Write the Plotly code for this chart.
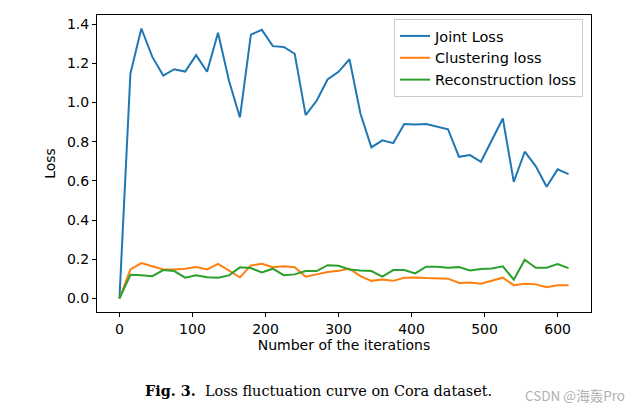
import plotly.graph_objects as go

iterations = list(range(0, 616, 15))

joint_loss = [0.0, 1.148, 1.378, 1.233, 1.138, 1.170, 1.158, 1.242, 1.157, 1.356,
              1.111, 0.924, 1.347, 1.371, 1.288, 1.284, 1.249, 0.936, 1.009, 1.118,
              1.157, 1.221, 0.944, 0.771, 0.807, 0.793, 0.890, 0.888, 0.890, 0.876,
              0.863, 0.723, 0.732, 0.698, 0.808, 0.919, 0.595, 0.749, 0.676, 0.570,
              0.659, 0.635]

clustering_loss = [0.0, 0.148, 0.181, 0.164, 0.148, 0.148, 0.152, 0.160, 0.148, 0.177,
                   0.141, 0.108, 0.169, 0.177, 0.160, 0.164, 0.160, 0.111, 0.123, 0.135,
                   0.141, 0.152, 0.114, 0.090, 0.097, 0.090, 0.106, 0.107, 0.104, 0.102,
                   0.101, 0.079, 0.082, 0.075, 0.090, 0.106, 0.068, 0.075, 0.072, 0.057,
                   0.067, 0.067]

reconstruction_loss = [0.0, 0.121, 0.118, 0.114, 0.145, 0.140, 0.106, 0.119, 0.109, 0.106,
                       0.118, 0.159, 0.155, 0.133, 0.152, 0.119, 0.123, 0.140, 0.140, 0.170,
                       0.167, 0.148, 0.143, 0.140, 0.112, 0.145, 0.145, 0.128, 0.162, 0.162,
                       0.157, 0.160, 0.143, 0.150, 0.153, 0.164, 0.096, 0.198, 0.157, 0.157,
                       0.176, 0.155]

series_names = ["Joint Loss", "Clustering loss", "Reconstruction loss"]
colors = ["#1f77b4", "#ff7f0e", "#2ca02c"]

x_ticks = [0, 100, 200, 300, 400, 500, 600]
y_ticks = [0.0, 0.2, 0.4, 0.6, 0.8, 1.0, 1.2, 1.4]

fig = go.Figure()
for name, ys, c in zip(series_names, [joint_loss, clustering_loss, reconstruction_loss], colors):
    fig.add_trace(go.Scatter(x=iterations, y=ys, mode="lines", name=name,
                             line=dict(color=c, width=2)))

# page body has an 8px default margin; work in window pixels and offset
OFF = 8
W, H = 642 - OFF, 413 - OFF
L, R, T, B = 97 - OFF, 591 - OFF, 15 - OFF, 312 - OFF

font_sans = "DejaVu Sans"
fig.update_layout(
    width=W, height=H,
    margin=dict(l=L, r=W - R, t=T, b=H - B, autoexpand=False),
    paper_bgcolor="white", plot_bgcolor="white",
    font=dict(family=font_sans, size=14, color="black"),
    showlegend=True,
    legend=dict(x=(583 - OFF - L) / (R - L), y=(B - (19 - OFF)) / (B - T),
                xanchor="right", yanchor="top",
                bgcolor="rgba(255,255,255,0.8)", bordercolor="#cccccc", borderwidth=1,
                font=dict(family=font_sans, size=14.5, color="black"),
                tracegroupgap=0),
    xaxis=dict(range=[-30.75, 645.75], tickvals=x_ticks, ticktext=[str(v) for v in x_ticks],
               showgrid=False, zeroline=False, showline=True, linecolor="black", linewidth=1,
               mirror=True, ticks="outside", ticklen=4, tickcolor="black", automargin=False,
               title=dict(text="Number of the iterations", standoff=4,
                          font=dict(family=font_sans, size=14, color="black")),
               tickfont=dict(family=font_sans, size=14, color="black")),
    yaxis=dict(range=[-0.069, 1.4469], tickvals=y_ticks, ticktext=[f"{v:.1f}" for v in y_ticks],
               showgrid=False, zeroline=False, showline=True, linecolor="black", linewidth=1,
               mirror=True, ticks="outside", ticklen=4, tickcolor="black", automargin=False,
               title=dict(text="Loss", standoff=8,
                          font=dict(family=font_sans, size=14, color="black")),
               tickfont=dict(family=font_sans, size=14, color="black")),
)

fig.add_annotation(x=143, y=390, xref="paper", yref="paper", showarrow=False,
                   text="<b>Fig. 3.</b>  Loss fluctuation curve on Cora dataset.",
                   font=dict(family="DejaVu Serif", size=14.4, color="black"),
                   xanchor="left", yanchor="middle")
fig.add_annotation(x=627, y=395, xref="paper", yref="paper", showarrow=False,
                   text="CSDN @海轰Pro",
                   font=dict(family="Noto Sans CJK SC", size=13.5, color="#b0b0b0"),
                   xanchor="right", yanchor="middle")

# convert window pixel positions to paper coords
for ann in fig.layout.annotations:
    px, py = ann.x - OFF, ann.y - OFF
    ann.x = (px - L) / (R - L)
    ann.y = (B - py) / (B - T)

fig.write_html("out.html")
